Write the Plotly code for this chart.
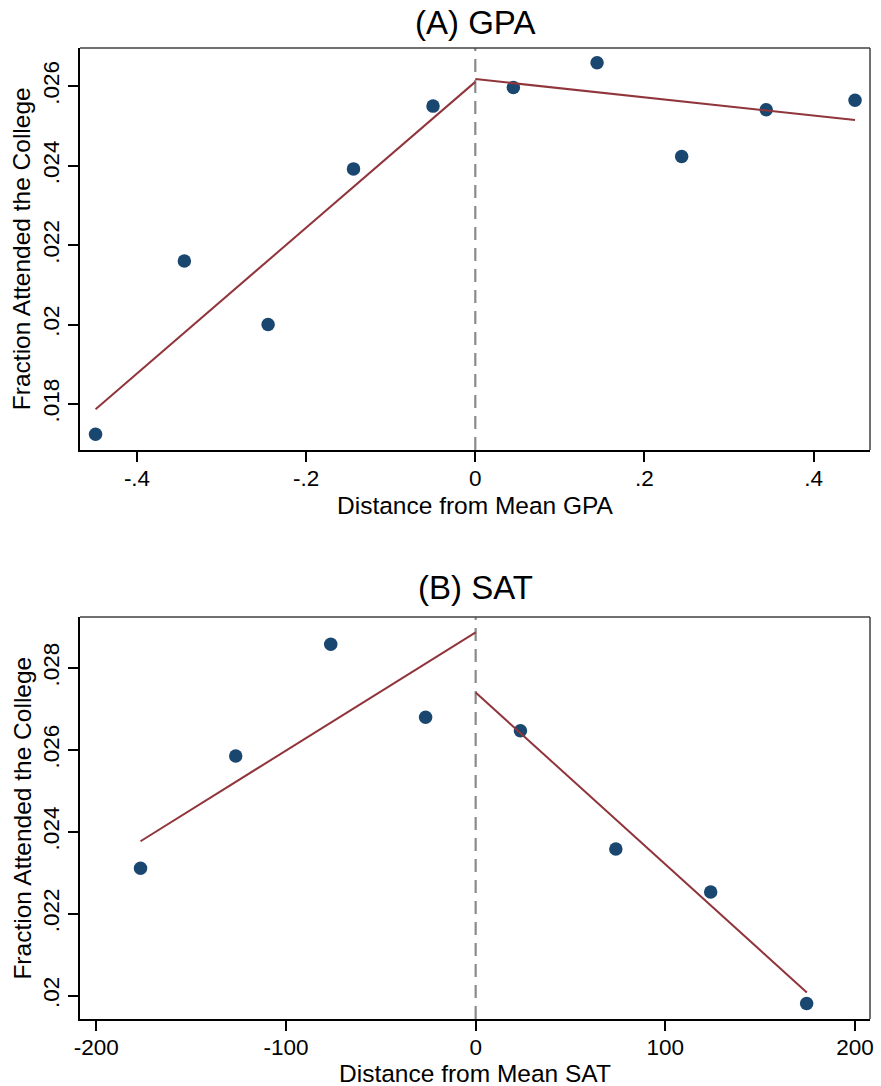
import plotly.graph_objects as go
from plotly.subplots import make_subplots

# ---------------- data ----------------
gpa_x = [-0.449, -0.344, -0.245, -0.144, -0.050, 0.045, 0.144, 0.244, 0.344, 0.449]
gpa_y = [0.01724, 0.02160, 0.02000, 0.02392, 0.02550, 0.02597, 0.02659, 0.02423, 0.02541, 0.02565]
gpa_fit_left_x = [-0.449, 0.0]
gpa_fit_left_y = [0.01787, 0.02611]
gpa_fit_right_x = [0.0, 0.449]
gpa_fit_right_y = [0.02618, 0.02515]

sat_x = [-176.7, -126.5, -76.4, -26.4, 23.6, 73.9, 123.9, 174.5]
sat_y = [0.02311, 0.02585, 0.02858, 0.02680, 0.02647, 0.02358, 0.02253, 0.01981]
sat_fit_left_x = [-176.7, 0.0]
sat_fit_left_y = [0.02377, 0.02887]
sat_fit_right_x = [0.0, 174.6]
sat_fit_right_y = [0.02740, 0.02008]

gpa_xticks = [-0.4, -0.2, 0, 0.2, 0.4]
gpa_xticktext = ["-.4", "-.2", "0", ".2", ".4"]
gpa_yticks = [0.018, 0.020, 0.022, 0.024, 0.026]
gpa_yticktext = [".018", ".02", ".022", ".024", ".026"]
sat_xticks = [-200, -100, 0, 100, 200]
sat_xticktext = ["-200", "-100", "0", "100", "200"]
sat_yticks = [0.020, 0.022, 0.024, 0.026, 0.028]
sat_yticktext = [".02", ".022", ".024", ".026", ".028"]

panel_titles = ["(A) GPA", "(B) SAT"]
x_titles = ["Distance from Mean GPA", "Distance from Mean SAT"]
y_title = "Fraction Attended the College"

# ---------------- style ----------------
FONT = "Arial, Liberation Sans, Helvetica, sans-serif"
DOT = "#1a476f"
FIT = "#90353b"
GRID_DASH = "#8a8a8a"

fig = make_subplots(rows=2, cols=1, vertical_spacing=0.0)

def add_panel(row, x, y, lx, ly, rx, ry):
    fig.add_trace(go.Scatter(x=x, y=y, mode="markers",
                             marker=dict(color=DOT, size=13.5, line=dict(width=0)),
                             showlegend=False), row=row, col=1)
    fig.add_trace(go.Scatter(x=lx, y=ly, mode="lines",
                             line=dict(color=FIT, width=2), showlegend=False), row=row, col=1)
    fig.add_trace(go.Scatter(x=rx, y=ry, mode="lines",
                             line=dict(color=FIT, width=2), showlegend=False), row=row, col=1)

add_panel(1, gpa_x, gpa_y, gpa_fit_left_x, gpa_fit_left_y, gpa_fit_right_x, gpa_fit_right_y)
add_panel(2, sat_x, sat_y, sat_fit_left_x, sat_fit_left_y, sat_fit_right_x, sat_fit_right_y)

axis_common = dict(showgrid=False, zeroline=False, showline=True, linecolor="black",
                   linewidth=2, ticks="outside", ticklen=10, tickwidth=1.5,
                   tickcolor="black", tickfont=dict(family=FONT, size=22.5, color="black"))

fig.update_layout(
    xaxis=dict(domain=[0, 1], range=[-0.4674, 0.4667], tickvals=gpa_xticks,
               ticktext=gpa_xticktext, anchor="y", ticklabelstandoff=-3, **axis_common),
    yaxis=dict(domain=[0.586, 1], range=[0.016843, 0.026963], tickvals=gpa_yticks,
               ticktext=gpa_yticktext, tickangle=-90, anchor="x", **axis_common),
    xaxis2=dict(domain=[0, 1], range=[-208.6, 207.9], tickvals=sat_xticks,
                ticktext=sat_xticktext, anchor="y2", ticklabelstandoff=-3, **axis_common),
    yaxis2=dict(domain=[0, 0.414], range=[0.019431, 0.029245], tickvals=sat_yticks,
                ticktext=sat_yticktext, tickangle=-90, anchor="x2", **axis_common),
)

# frame (top/right) and dashed cutoff lines
for xr, yr in (("x", "y"), ("x2", "y2")):
    fig.add_shape(type="line", xref=f"{xr} domain", yref=f"{yr} domain",
                  x0=0, x1=1, y0=1, y1=1, line=dict(color="#404040", width=1.5))
    fig.add_shape(type="line", xref=f"{xr} domain", yref=f"{yr} domain",
                  x0=1, x1=1, y0=0, y1=1, line=dict(color="#404040", width=1.5))
    fig.add_shape(type="line", xref=xr, yref=f"{yr} domain",
                  x0=0, x1=0, y0=0, y1=1,
                  line=dict(color=GRID_DASH, width=2.2, dash="13px,8px"), layer="below")

H = 1086
mt, mb = 48, 67
ph = H - mt - mb

def py(pix):
    return (H - mb - pix) / ph

ann = []
for title, ypix in zip(panel_titles, [22, 588]):
    ann.append(dict(text=title, x=0.5, y=py(ypix), xref="paper", yref="paper",
                    xanchor="center", yanchor="middle", showarrow=False,
                    font=dict(family=FONT, size=33, color="black")))
for title, ypix in zip(x_titles, [505, 1073]):
    ann.append(dict(text=title, x=0.5, y=py(ypix), xref="paper", yref="paper",
                    xanchor="center", yanchor="middle", showarrow=False,
                    font=dict(family=FONT, size=24.5, color="black")))
for yc in [(47.7 + 450) / 2, (617.3 + 1019.3) / 2]:
    ann.append(dict(text=y_title, x=(22 - 80) / 794, y=py(yc), xref="paper", yref="paper",
                    xanchor="center", yanchor="middle", showarrow=False, textangle=-90,
                    font=dict(family=FONT, size=24.5, color="black")))

fig.update_layout(
    annotations=ann,
    width=881, height=1086,
    margin=dict(l=80, r=7, t=mt, b=mb),
    paper_bgcolor="white", plot_bgcolor="white",
    showlegend=False,
)

fig.write_html("out.html")
